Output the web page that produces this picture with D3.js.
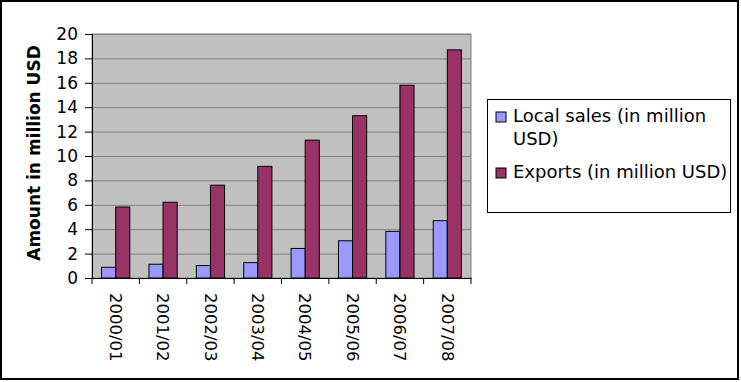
<!DOCTYPE html>
<html>
<head>
<meta charset="utf-8">
<script src="https://cdn.jsdelivr.net/npm/d3@7"></script>
<style>
  body { margin: 0; background: #fff; }
  svg { display: block; font-family: "DejaVu Sans", sans-serif; }
</style>
</head>
<body>
<svg id="chart" width="741" height="382"></svg>
<script>
var years = ['2000/01', '2001/02', '2002/03', '2003/04', '2004/05', '2005/06', '2006/07', '2007/08'];
var localSales = [0.88, 1.13, 1.02, 1.26, 2.42, 3.05, 3.82, 4.70];
var exportsUsd = [5.82, 6.21, 7.61, 9.15, 11.3, 13.3, 15.8, 18.7];
var seriesNames = ['Local sales (in million USD)', 'Exports (in million USD)'];
var yTicks = [0, 2, 4, 6, 8, 10, 12, 14, 16, 18, 20];

var svg = d3.select('#chart');
var plot = { left: 92, right: 471, top: 34, bottom: 278 };

// outer frame
svg.append('rect')
	.attr('x', 1).attr('y', 1)
	.attr('width', 737).attr('height', 378)
	.attr('fill', '#fff')
	.attr('stroke', '#000')
	.attr('stroke-width', 2);

var x = d3.scaleBand()
	.domain(years)
	.range([plot.left, plot.right]);

var inner = d3.scaleBand()
	.domain([0, 1])
	.range([0, x.bandwidth()])
	.paddingOuter(0.68);

var y = d3.scaleLinear()
	.domain([0, 20])
	.range([plot.bottom, plot.top]);

// plot background
svg.append('rect')
	.attr('x', plot.left).attr('y', plot.top)
	.attr('width', plot.right - plot.left)
	.attr('height', plot.bottom - plot.top)
	.attr('fill', '#c0c0c0')
	.attr('stroke', '#808080')
	.attr('stroke-width', 1);

// grid lines
svg.append('g')
	.selectAll('line')
	.data(yTicks.slice(1))
	.enter().append('line')
	.attr('x1', plot.left).attr('x2', plot.right)
	.attr('y1', function (d) { return y(d) + 0.5; })
	.attr('y2', function (d) { return y(d) + 0.5; })
	.attr('stroke', '#808080');

// bars
var data = years.map(function (yr, i) {
	return { year: yr, values: [localSales[i], exportsUsd[i]] };
});
var colors = ['#9999ff', '#993366'];

var groups = svg.append('g')
	.selectAll('g')
	.data(data)
	.enter().append('g')
	.attr('transform', function (d) { return 'translate(' + x(d.year) + ',0)'; });

groups.selectAll('rect')
	.data(function (d) { return d.values; })
	.enter().append('rect')
	.attr('x', function (d, i) { return inner(i); })
	.attr('y', function (d) { return y(d); })
	.attr('width', inner.bandwidth())
	.attr('height', function (d) { return y(0) - y(d); })
	.attr('fill', function (d, i) { return colors[i]; })
	.attr('stroke', '#000')
	.attr('stroke-width', 1);

// y axis
var yAxis = svg.append('g')
	.attr('transform', 'translate(' + plot.left + ',0)')
	.call(d3.axisLeft(y).tickValues(yTicks).tickSize(7).tickPadding(7));
yAxis.select('.domain').attr('stroke', '#000');
yAxis.selectAll('text')
	.attr('font-size', 17)
	.attr('fill', '#000')
	.attr('font-family', '"DejaVu Sans", sans-serif');

// x axis
var xAxis = svg.append('g')
	.attr('transform', 'translate(0,' + plot.bottom + ')')
	.call(d3.axisBottom(x).tickSize(0).tickSizeOuter(0));
xAxis.select('.domain').attr('stroke', '#000');
xAxis.selectAll('.tick line').remove();
xAxis.selectAll('text')
	.attr('font-size', 16.5)
	.attr('fill', '#000')
	.attr('font-family', '"DejaVu Sans", sans-serif')
	.attr('text-anchor', 'start')
	.attr('dy', '0.35em')
	.attr('transform', 'translate(0,15) rotate(90)')
	.attr('x', 0).attr('y', 0);

// category separator ticks
svg.append('g')
	.selectAll('line')
	.data(years.concat(['end']))
	.enter().append('line')
	.attr('x1', function (d) { return d === 'end' ? plot.right : x(d); })
	.attr('x2', function (d) { return d === 'end' ? plot.right : x(d); })
	.attr('y1', plot.bottom)
	.attr('y2', plot.bottom + 6)
	.attr('stroke', '#000');

// y title
svg.append('text')
	.attr('transform', 'translate(40,' + ((plot.top + plot.bottom) / 2 - 3) + ') rotate(-90)')
	.attr('text-anchor', 'middle')
	.attr('font-size', 17)
	.attr('font-weight', 'bold')
	.text('Amount in million USD');

// legend
var legend = svg.append('g');
legend.append('rect')
	.attr('x', 487.5).attr('y', 99.5)
	.attr('width', 243).attr('height', 113)
	.attr('fill', '#fff')
	.attr('stroke', '#000');

var legendRows = [
	{ lines: ['Local sales (in million', 'USD)'], y: 122 },
	{ lines: ['Exports (in million USD)'], y: 178 }
];
legendRows.forEach(function (row, i) {
	legend.append('rect')
		.attr('x', 496).attr('y', row.y - 10)
		.attr('width', 10).attr('height', 10)
		.attr('fill', colors[i])
		.attr('stroke', '#000');
	var t = legend.append('text')
		.attr('x', 513).attr('y', row.y)
		.attr('font-size', 18);
	row.lines.forEach(function (ln, j) {
		t.append('tspan')
			.attr('x', 513)
			.attr('dy', j === 0 ? 0 : 23)
			.text(ln);
	});
});
</script>
</body>
</html>
